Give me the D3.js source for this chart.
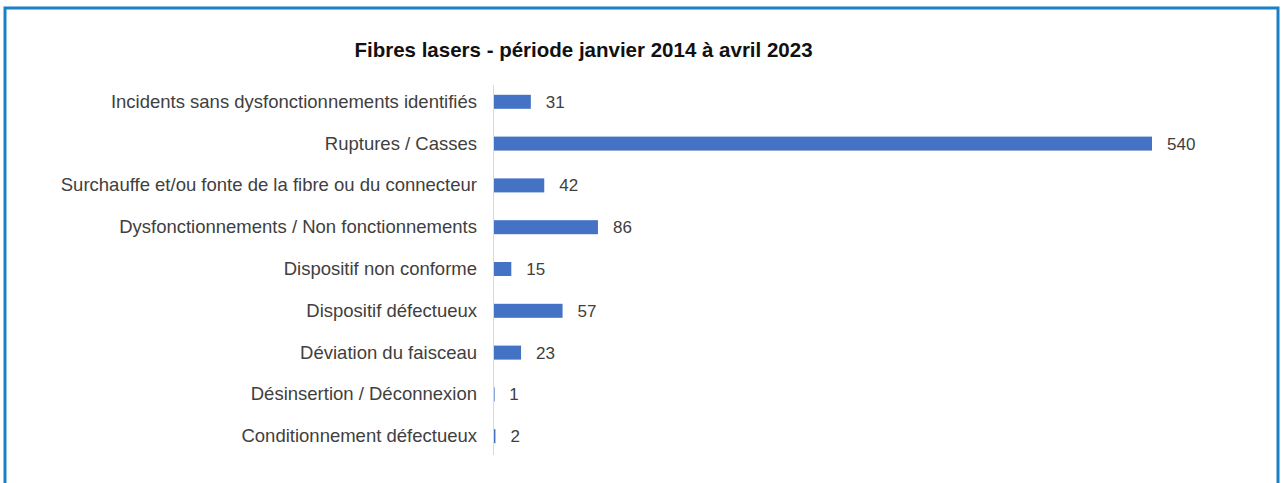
<!DOCTYPE html>
<html>
<head>
<meta charset="utf-8">
<script src="https://cdn.jsdelivr.net/npm/d3@7"></script>
<style>
  html, body { margin: 0; padding: 0; background: #ffffff; }
  svg { display: block; }
</style>
</head>
<body>
<svg id="chart" width="1282" height="483"></svg>
<script>
// Incident categories and counts for laser fibres
const categories = [
  "Incidents sans dysfonctionnements identifiés",
  "Ruptures / Casses",
  "Surchauffe et/ou fonte de la fibre ou du connecteur",
  "Dysfonctionnements / Non fonctionnements",
  "Dispositif non conforme",
  "Dispositif défectueux",
  "Déviation du faisceau",
  "Désinsertion / Déconnexion",
  "Conditionnement défectueux"
];
const counts = [31, 540, 42, 86, 15, 57, 23, 1, 2];
const title = "Fibres lasers - période janvier 2014 à avril 2023";

const data = categories.map((c, i) => ({ category: c, value: counts[i] }));

const svg = d3.select("#chart");
const W = 1282, H = 483;

// outer frame
svg.append("rect")
  .attr("x", 5).attr("y", 8)
  .attr("width", W - 9).attr("height", H)
  .attr("fill", "none")
  .attr("stroke", "#1a80c6")
  .attr("stroke-width", 3);

const x0 = 493, x1 = 1152;
const x = d3.scaleLinear().domain([0, 540]).range([x0, x1]);
const y = d3.scaleBand()
  .domain(categories)
  .range([81, 457])
  .paddingInner(0.665)
  .paddingOuter(0.33);

const font = "'Liberation Sans', Arial, sans-serif";

// title
svg.append("text")
  .attr("x", 583.5).attr("y", 56.5)
  .attr("text-anchor", "middle")
  .attr("font-family", font)
  .attr("font-weight", "bold")
  .attr("font-size", 20.5)
  .attr("fill", "#111")
  .text(title);

// bars
svg.append("g").selectAll("rect")
  .data(data)
  .join("rect")
  .attr("x", x(0))
  .attr("y", d => y(d.category))
  .attr("width", d => Math.max(x(d.value) - x(0), 1.6))
  .attr("height", y.bandwidth())
  .attr("fill", "#4472c4");

// category axis
const axis = svg.append("g")
  .attr("transform", `translate(${x0},0)`)
  .call(d3.axisLeft(y).tickSize(0).tickPadding(16));
axis.select(".domain")
  .attr("stroke", "#d9d9d9")
  .attr("d", `M0.5,85V455`);
axis.selectAll("text")
  .attr("font-family", font)
  .attr("font-size", 18.5)
  .attr("fill", "#404040");

// value labels
svg.append("g").selectAll("text")
  .data(data)
  .join("text")
  .attr("x", d => x(d.value) + 15)
  .attr("y", d => y(d.category) + y.bandwidth() / 2)
  .attr("dy", "0.35em")
  .attr("font-family", font)
  .attr("font-size", 17)
  .attr("fill", "#404040")
  .text(d => d.value);
</script>
</body>
</html>
